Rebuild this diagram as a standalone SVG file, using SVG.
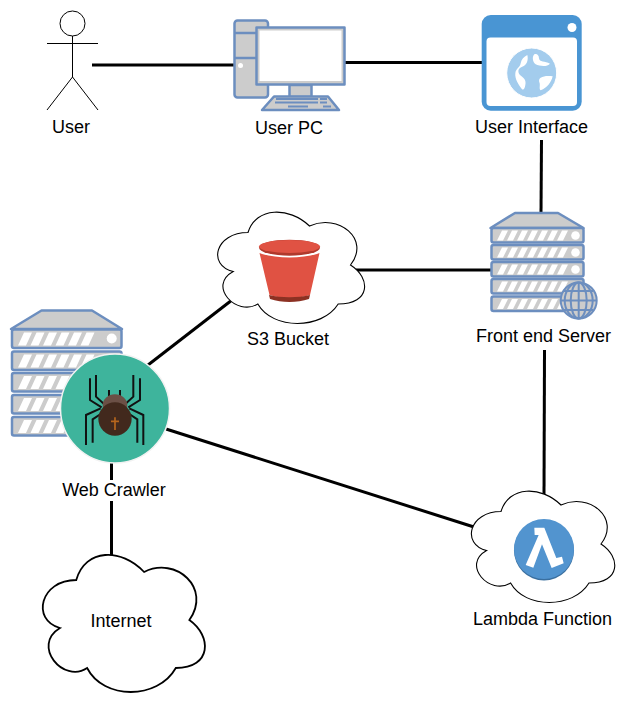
<svg xmlns="http://www.w3.org/2000/svg" width="632" height="712" viewBox="0 0 632 712">
<style>
text{font-family:"Liberation Sans",Arial,sans-serif;font-size:18px;fill:#000;text-anchor:middle}
.c{fill:none;stroke:#000;stroke-width:3}
.cloud{fill:#fff;stroke:#000;stroke-width:1.100}
.g{fill:#ccc;stroke:#6c8ebf;stroke-width:2.500;stroke-linejoin:round}
.st{fill:#fff}
.leg{fill:none;stroke:#111;stroke-width:6}
.ac{fill:none;stroke:#000;stroke-width:1}
</style>
<defs>
<path id="cl" d="M.25 .25C.05 .25 0 .5 .16 .55C0 .66 .18 .9 .31 .8C.4 1 .7 1 .8 .8C1 .8 1 .6 .875 .5C1 .3 .8 .1 .625 .2C.5 .05 .3 .05 .25 .25Z" vector-effect="non-scaling-stroke"/>
<path id="s1" class="st" d="M5 0h6l-5 10h-6zM15 0h6l-5 10h-6zM25 0h6l-5 10h-6zM35 0h6l-5 10h-6zM45 0h6l-5 10h-6zM55 0h6l-5 10h-6zM65 0h6l-5 10h-6z"/>
<path id="s2" class="st" d="M6 0h8l-6 13h-8zM18.500 0h8l-6 13h-8zM31 0h8l-6 13h-8zM43.500 0h8l-6 13h-8zM56 0h8l-6 13h-8zM68.500 0h8l-6 13h-8z"/>
</defs>
<g id="connectors">
<path class="c" d="M92 65H235"/>
<path class="c" d="M345 62.500H482"/>
<path class="c" d="M541.500 140L541 213"/>
<path class="c" d="M356 270H492"/>
<path class="c" d="M232 300L148 365"/>
<path class="c" d="M544.500 350L544 495"/>
<path class="c" d="M166 429L474 527"/>
<path class="c" d="M111.500 463V480M111.500 501V556"/>
</g>
<g id="user">
<circle class="ac" cx="72.500" cy="23.500" r="12.500"/>
<path class="ac" d="M72.500 36V77M47 43.500H98M47 110L72.500 77L98 110"/>
<text x="71" y="133">User</text>
</g>
<g id="user-pc">
<rect class="g" x="234.500" y="20.500" width="33.500" height="77" rx="3"/>
<path class="g" d="M234.500 33H268M234.500 58H268"/>
<circle cx="240.500" cy="65.500" r="2.500" fill="#fff"/>
<rect class="g" x="289.500" y="85" width="22" height="12"/>
<rect class="g" x="256.500" y="27.500" width="88" height="57"/>
<rect x="259.500" y="30.500" width="82" height="50.500" fill="#fff"/>
<path class="g" d="M274 96.500H328L339 110H262Z"/>
<path d="M276 99h42M275 102.500h43M288 106.500h20M320 99h7M320 102.500h7M323 106.500h8" fill="none" stroke="#6c8ebf" stroke-width="1.800"/>
<text x="289" y="134">User PC</text>
</g>
<g id="user-interface">
<rect x="481.700" y="15" width="100" height="95.700" rx="9" fill="#4995d3"/>
<rect x="486.500" y="37.500" width="90.500" height="68.500" rx="4" fill="#fff"/>
<circle cx="572" cy="27.500" r="4.500" fill="#fff"/>
<circle cx="531.700" cy="73" r="25" fill="#a3cced" stroke="#fff" stroke-width="1"/>
<path fill="#fff" transform="translate(470 5) scale(.3333)" d="M172 150C176 165 170 182 155 186C143 190 143 203 150 210C160 218 170 225 166 240C164 250 162 256 156 253C146 240 134 222 136 205C138 190 150 188 152 175C154 163 162 155 172 150ZM193 148C200 145 207 150 207 160C208 172 225 168 240 176C232 186 210 184 197 178C187 170 186 155 193 148ZM212 218C222 212 235 212 248 214C244 232 232 248 212 256C206 252 212 240 208 232C206 226 208 220 212 218Z"/>
<text x="531.500" y="133">User Interface</text>
</g>
<g id="front-end-server">
<path class="g" d="M490.500 228L515 213H558L583.500 228Z"/>
<rect class="g" x="491.500" y="228" width="92" height="14.500" rx="2"/>
<rect class="g" x="491.500" y="245" width="92" height="14.500" rx="2"/>
<rect class="g" x="491.500" y="262" width="92" height="14.500" rx="2"/>
<rect class="g" x="491.500" y="279" width="92" height="14.500" rx="2"/>
<rect class="g" x="491.500" y="296.500" width="92" height="14.500" rx="2"/>
<use href="#s1" x="497" y="230.500"/>
<use href="#s1" x="497" y="247.500"/>
<use href="#s1" x="497" y="264.500"/>
<use href="#s1" x="497" y="281.500"/>
<use href="#s1" x="497" y="299"/>
<circle cx="575.500" cy="235.500" r="4.300" fill="#fff"/>
<circle cx="575.500" cy="252.500" r="4.300" fill="#fff"/>
<circle cx="575.500" cy="269.500" r="4.300" fill="#fff"/>
<g fill="#ccc" stroke="#6c8ebf" stroke-width="2"><circle cx="578.700" cy="300.500" r="18"/><ellipse cx="578.700" cy="300.500" rx="8" ry="18" fill="none"/><ellipse cx="578.700" cy="300.500" rx="14" ry="18" fill="none"/><path d="M578.700 282.500V318.500M561 300.500H596.500M564 291H593M564 310H593" fill="none"/></g>
<text x="543.500" y="342">Front end Server</text>
</g>
<g id="s3-bucket">
<use href="#cl" class="cloud" transform="translate(207 200) scale(164 130)"/>
<path fill="#e05243" d="M259.500 253C275 259 304 259 319.500 253L310 295C298 299 281 299 269.500 295Z"/>
<path fill="#8c3123" d="M269 295C281 298 298 298 310 295L309 299C297 303 282 303 270 299Z"/>
<ellipse cx="289.500" cy="247.700" rx="30.500" ry="8" fill="#b0392c"/>
<ellipse cx="289.500" cy="246.500" rx="30.500" ry="6.500" fill="#e05243"/>
<text x="288" y="345">S3 Bucket</text>
</g>
<g id="web-crawler">
<path class="g" d="M11 329L41.500 310.500H92L122 329Z"/>
<rect class="g" x="12" y="329.500" width="109.500" height="18.500" rx="2"/>
<rect class="g" x="12" y="351.500" width="109.500" height="18.500" rx="2"/>
<rect class="g" x="12" y="373" width="109.500" height="18.500" rx="2"/>
<rect class="g" x="12" y="395" width="109.500" height="18.500" rx="2"/>
<rect class="g" x="12" y="417" width="109.500" height="18.500" rx="2"/>
<use href="#s2" x="18" y="332.500"/>
<use href="#s2" x="18" y="354.500"/>
<use href="#s2" x="18" y="376"/>
<use href="#s2" x="18" y="398"/>
<use href="#s2" x="18" y="420"/>
<circle cx="111.700" cy="338.500" r="5" fill="#fff"/>
<circle cx="115" cy="408.500" r="54.500" fill="#3eb49c" stroke="#f2f2f2" stroke-width="1.500"/>
<g transform="translate(0 300) scale(.3333)">
<path class="leg" d="M270 235V300L305 322M288 225V290L312 312M258 435V345L302 325M278 428V358L302 342M420 235V300L385 322M400 225V290L376 312M430 435V345L388 325M412 428V358L388 342M327 270V292M360 270V292"/>
<ellipse cx="345" cy="315" rx="37" ry="32" fill="#6b5046"/>
<circle cx="345" cy="357" r="50" fill="#42291d"/>
<path d="M345 307A50 50 0 0 1 385 387A50 50 0 0 0 345 307Z" fill="#2e1d14"/>
<path d="M345 352V390M333 364H357" stroke="#b5651d" stroke-width="5" fill="none"/>
</g>
<text x="114" y="496">Web Crawler</text>
</g>
<g id="lambda-function">
<use href="#cl" class="cloud" transform="translate(461 479) scale(160 130)"/>
<circle cx="544" cy="550.500" r="30" fill="#3a6f9f"/>
<circle cx="544" cy="549" r="30" fill="#5294cf"/>
<path fill="#fff" transform="translate(465 485) scale(.3333)" d="M208 128H238L274 219L291 215L296 235L260 249L231 178L205 248L182 240L221 150H209Z"/>
<text x="542.500" y="625">Lambda Function</text>
</g>
<g id="internet">
<use href="#cl" class="cloud" transform="translate(31 540) scale(181 160)" style="stroke-width:1.800"/>
<text x="121" y="627">Internet</text>
</g>
</svg>
